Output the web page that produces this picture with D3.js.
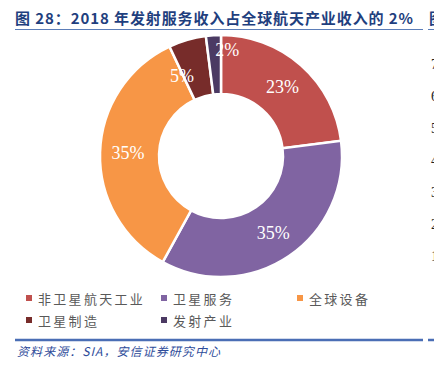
<!DOCTYPE html>
<html>
<head>
<meta charset="utf-8">
<script src="https://cdn.jsdelivr.net/npm/d3@7"></script>
<style>
  html, body { margin: 0; padding: 0; background: #fff; }
  svg { display: block; }
</style>
</head>
<body>
<svg id="chart" width="434" height="366"></svg>
<script>
// data
const categories = ["非卫星航天工业", "卫星服务", "全球设备", "卫星制造", "发射产业"];
const shares = [23, 35, 35, 5, 2];
const colors = ["#C0504D", "#8064A2", "#F79646", "#772C2A", "#4B3A63"];
const sideTicks = ["7", "6", "5", "4", "3", "2", "1"];

const svg = d3.select("#chart");
const cx = 221, cy = 156, outerR = 121, innerR = 62;

// title
svg.append("text")
  .attr("x", 15).attr("y", 24)
  .attr("font-family", "'Noto Sans CJK SC', sans-serif")
  .attr("font-weight", "bold").attr("font-size", 15)
  .attr("fill", "#1F3F7E")
  .attr("textLength", 398).attr("lengthAdjust", "spacing")
  .text("图 28：2018 年发射服务收入占全球航天产业收入的 2%");
// next chart's title, cut by the edge
svg.append("text")
  .attr("x", 429).attr("y", 24)
  .attr("font-family", "'Noto Sans CJK SC', sans-serif")
  .attr("font-weight", "bold").attr("font-size", 15)
  .attr("fill", "#1F3F7E")
  .text("图");
svg.append("line").attr("x1", 15).attr("x2", 423).attr("y1", 29.5).attr("y2", 29.5)
  .attr("stroke", "#5B7DB8").attr("stroke-width", 1);
svg.append("line").attr("x1", 428).attr("x2", 434).attr("y1", 29.5).attr("y2", 29.5)
  .attr("stroke", "#5B7DB8").attr("stroke-width", 1);

// donut
const pie = d3.pie().sort(null).value(d => d);
const arc = d3.arc().innerRadius(innerR).outerRadius(outerR);
const labelArc = d3.arc().innerRadius(93).outerRadius(93);
const arcs = pie(shares);

const g = svg.append("g").attr("transform", `translate(${cx},${cy})`);
g.selectAll("path")
  .data(arcs)
  .enter()
  .append("path")
  .attr("d", arc)
  .attr("fill", (d, i) => colors[i])
  .attr("stroke", "#fff")
  .attr("stroke-width", 2.5);

// small slices get nudged like excel's best fit
const nudge = { 3: [-13, 9], 4: [12, -13] };
g.selectAll("text.lbl")
  .data(arcs)
  .enter()
  .append("text")
  .attr("class", "lbl")
  .attr("transform", (d, i) => {
    const c = labelArc.centroid(d);
    const n = nudge[i] || [0, 0];
    return `translate(${c[0] + n[0]},${c[1] + n[1]})`;
  })
  .attr("text-anchor", "middle")
  .attr("dy", "0.35em")
  .attr("font-family", "'Liberation Serif', serif")
  .attr("font-size", 18)
  .attr("fill", "#fff")
  .text(d => d.value + "%");

// legend
const legendPos = [[26, 298], [161, 298], [297, 298], [26, 320], [161, 320]];
const legend = svg.append("g")
  .selectAll("g")
  .data(categories)
  .enter()
  .append("g")
  .attr("transform", (d, i) => `translate(${legendPos[i][0]},${legendPos[i][1]})`);
legend.append("rect")
  .attr("x", 0).attr("y", -3).attr("width", 6).attr("height", 6)
  .attr("fill", (d, i) => colors[i]);
legend.append("text")
  .attr("x", 12).attr("y", 5.5)
  .attr("font-family", "'Noto Sans CJK SC', sans-serif")
  .attr("font-size", 13)
  .attr("letter-spacing", 2.3)
  .attr("fill", "#595959")
  .text(d => d);

// neighbour chart's axis peeking in at the right edge
svg.append("g")
  .selectAll("text")
  .data(sideTicks)
  .enter()
  .append("text")
  .attr("x", 431)
  .attr("y", (d, i) => 69 + i * 32)
  .attr("font-family", "'Liberation Serif', serif")
  .attr("font-size", 14)
  .attr("fill", "#222")
  .text(d => d);

// source
svg.append("line").attr("x1", 15).attr("x2", 423).attr("y1", 340).attr("y2", 340)
  .attr("stroke", "#4A6EB5").attr("stroke-width", 2.5);
svg.append("line").attr("x1", 428).attr("x2", 434).attr("y1", 340).attr("y2", 340)
  .attr("stroke", "#4A6EB5").attr("stroke-width", 2.5);
svg.append("text")
  .attr("x", 17).attr("y", 356)
  .attr("font-family", "'Noto Sans CJK SC', sans-serif")
  .attr("font-style", "italic")
  .attr("font-size", 12)
  .attr("fill", "#2E4C9A")
  .attr("textLength", 203).attr("lengthAdjust", "spacing")
  .text("资料来源：SIA，安信证券研究中心");
</script>
</body>
</html>
